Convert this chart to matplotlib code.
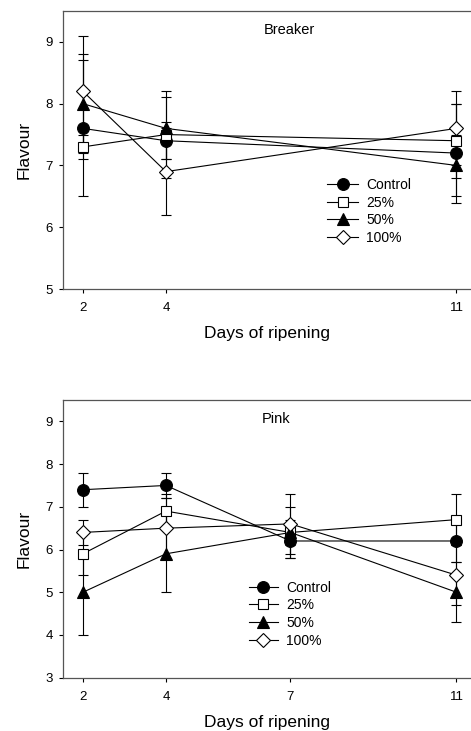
import matplotlib.pyplot as plt
from matplotlib.lines import Line2D

plt.rcParams['font.family'] = ['Liberation Sans', 'DejaVu Sans']

# Breaker data
days_b = [2, 4, 11]
breaker = {
    "Control": [7.6, 7.4, 7.2],
    "25%": [7.3, 7.5, 7.4],
    "50%": [8.0, 7.6, 7.0],
    "100%": [8.2, 6.9, 7.6],
}
breaker_err = {
    "Control": [1.1, 0.3, 0.8],
    "25%": [0.2, 0.7, 0.6],
    "50%": [0.8, 0.5, 0.5],
    "100%": [0.9, 0.7, 0.6],
}

# Pink data
days_p = [2, 4, 7, 11]
pink = {
    "Control": [7.4, 7.5, 6.2, 6.2],
    "25%": [5.9, 6.9, 6.4, 6.7],
    "50%": [5.0, 5.9, 6.4, 5.0],
    "100%": [6.4, 6.5, 6.6, 5.4],
}
pink_err = {
    "Control": [0.4, 0.3, 0.4, 0.5],
    "25%": [0.5, 0.4, 0.3, 0.6],
    "50%": [1.0, 0.9, 0.6, 0.7],
    "100%": [0.3, 0.7, 0.7, 0.7],
}

styles = {
    "Control": dict(marker="o", mfc="black", ms=8.5),
    "25%": dict(marker="s", mfc="white", ms=7.5),
    "50%": dict(marker="^", mfc="black", ms=8.5),
    "100%": dict(marker="D", mfc="white", ms=7),
}

W, H = 471, 731
fig = plt.figure(figsize=(W / 100, H / 100), dpi=100)


def panel(top, bottom, days, data, err, ylim, yticks, title, title_xy, leg_xy, hlen):
    ax = fig.add_axes([63 / W, 1 - bottom / H, (W - 63) / W, (bottom - top) / H])
    handles = []
    for name in data:
        st = styles[name]
        ax.errorbar(days, data[name], yerr=err[name], color="black", lw=0.8,
                    elinewidth=0.8, capsize=3.5, capthick=0.8,
                    marker=st["marker"], mfc=st["mfc"], mec="black",
                    ms=st["ms"], mew=0.8)
        handles.append(Line2D([], [], color="black", lw=0.8, marker=st["marker"],
                              mfc=st["mfc"], mec="black", ms=st["ms"], mew=0.8,
                              label=name))
    ax.set_xlim(1.52, 2 + (W - 83) / 41.5)
    ax.set_ylim(*ylim)
    ax.set_xticks(days)
    ax.set_yticks(yticks)
    ax.tick_params(direction="out", length=3, width=0.8, labelsize=9.5, colors="black")
    ax.tick_params(axis="y", pad=4.5)
    ax.tick_params(axis="x", pad=6.5)
    for s in ["left", "bottom", "top"]:
        ax.spines[s].set_color("#555555")
        ax.spines[s].set_linewidth(0.9)
    ax.spines["right"].set_visible(False)
    ax.set_ylabel("Flavour", fontsize=12.5, labelpad=10)
    ax.set_xlabel("Days of ripening", fontsize=12.5, labelpad=8.5)
    ax.text(title_xy[0], title_xy[1], title, transform=ax.transAxes,
            ha="center", va="center", fontsize=10.5)
    ax.legend(handles=handles, loc="upper left", bbox_to_anchor=leg_xy, frameon=False,
              fontsize=10, handlelength=hlen, handletextpad=0.6,
              labelspacing=0.27, borderpad=0, borderaxespad=0)
    return ax


panel(11, 289, days_b, breaker, breaker_err, (5, 9.5), [5, 6, 7, 8, 9],
      "Breaker", ((289 - 63) / 408, 1 - (30 - 11) / 278), (0.648, 0.40), 2.2)
panel(400, 677.7, days_p, pink, pink_err, (3, 9.5), [3, 4, 5, 6, 7, 8, 9],
      "Pink", ((276 - 63) / 408, 1 - (419 - 400) / 277.7), (0.455, 0.35), 2.1)

plt.savefig("out.png", dpi=100)
